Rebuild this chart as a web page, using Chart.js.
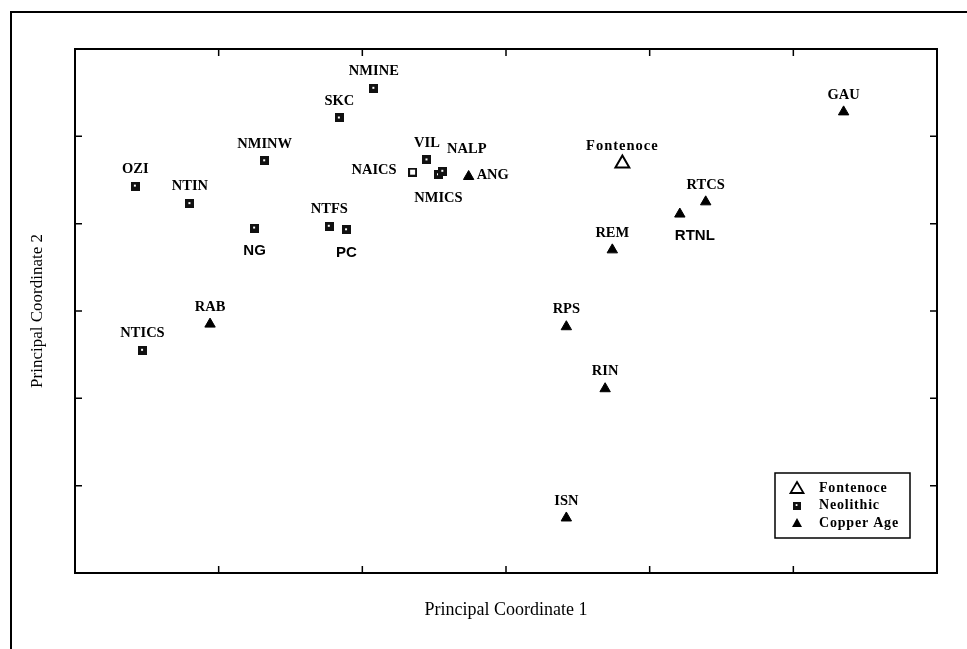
<!DOCTYPE html>
<html lang="en">
<head>
<meta charset="UTF-8">
<title>Principal coordinates</title>
<script src="https://cdn.jsdelivr.net/npm/chart.js"></script>
<style>
  body { margin: 0; background: #fff; }
  .wrap { position: relative; width: 967px; height: 649px; }
</style>
</head>
<body>
<div class="wrap"><canvas id="pco" width="967" height="649"></canvas></div>
<script>
// Neolithic sites
const neoNames = ['OZI', 'NTIN', 'NMINW', 'NG', 'NTFS', 'PC', 'SKC', 'NMINE', 'NAICS', 'VIL', 'NMICS', 'NALP', 'NTICS'];
const neoX = [0.42, 0.80, 1.32, 1.25, 1.77, 1.89, 1.84, 2.08, 2.35, 2.45, 2.53, 2.56, 0.47];
const neoY = [4.43, 4.23, 4.72, 3.95, 3.97, 3.93, 5.21, 5.55, 4.59, 4.73, 4.56, 4.60, 2.55];
const neoSide = ['above', 'above', 'above', 'below', 'above', 'below', 'above', 'above', 'left', 'above', 'below', 'aboveRight', 'above'];

// Copper Age sites
const cuNames = ['ANG', 'RAB', 'RPS', 'RIN', 'ISN', 'REM', 'RTNL', 'RTCS', 'GAU'];
const cuX = [2.74, 0.94, 3.42, 3.69, 3.42, 3.74, 4.21, 4.39, 5.35];
const cuY = [4.54, 2.85, 2.82, 2.11, 0.63, 3.70, 4.11, 4.25, 5.28];
const cuSide = ['right', 'above', 'above', 'above', 'above', 'above', 'belowRight', 'above', 'above'];

// Fontenoce
const fonNames = ['Fontenoce'];
const fonX = [3.81];
const fonY = [4.69];
const fonSide = ['above'];

const tickValues = [1, 2, 3, 4, 5];
const legendLabels = ['Fontenoce', 'Neolithic', 'Copper Age'];

// labels printed in a plain sans face in the original
const sansLabels = ['NG', 'PC', 'RTNL'];
// the one Neolithic marker printed as an open square
const hollowSites = ['NAICS'];

function toPoints(xs, ys) {
    return xs.map((x, i) => ({ x: x, y: ys[i] }));
}

// small black square with a light speck, as in the scan
function neoMarker(size, hollow) {
    const c = document.createElement('canvas');
    c.width = size; c.height = size;
    const g = c.getContext('2d');
    g.fillStyle = '#111';
    g.fillRect(0, 0, size, size);
    g.fillStyle = '#fff';
    if (hollow) g.fillRect(2, 2, size - 4, size - 4);
    else g.fillRect(Math.floor(size / 2) - 1, Math.floor(size / 2) - 1, 2, 2);
    return c;
}
const neoIcon = neoMarker(9, false);
const neoOpenIcon = neoMarker(9, true);

const serif = '"Liberation Serif", "DejaVu Serif", serif';
const sans = '"Liberation Sans", Arial, sans-serif';

const outerFrame = {
    id: 'outerFrame',
    beforeDraw(chart) {
        const ctx = chart.ctx;
        ctx.save();
        ctx.fillStyle = '#fff';
        ctx.fillRect(0, 0, chart.width, chart.height);
        ctx.strokeStyle = '#000';
        ctx.lineWidth = 2;
        ctx.beginPath();
        ctx.moveTo(11, chart.height + 5);
        ctx.lineTo(11, 12);
        ctx.lineTo(chart.width + 5, 12);
        ctx.stroke();
        ctx.restore();
    }
};

const boxAndTicks = {
    id: 'boxAndTicks',
    afterDraw(chart) {
        const { ctx, chartArea: a, scales } = chart;
        ctx.save();
        ctx.strokeStyle = '#000';
        ctx.lineWidth = 2;
        ctx.strokeRect(a.left, a.top, a.right - a.left, a.bottom - a.top);
        ctx.lineWidth = 1.5;
        ctx.beginPath();
        tickValues.forEach(v => {
            const px = scales.x.getPixelForValue(v);
            ctx.moveTo(px, a.bottom); ctx.lineTo(px, a.bottom - 7);
            ctx.moveTo(px, a.top); ctx.lineTo(px, a.top + 7);
            const py = scales.y.getPixelForValue(v);
            ctx.moveTo(a.left, py); ctx.lineTo(a.left + 7, py);
            ctx.moveTo(a.right, py); ctx.lineTo(a.right - 7, py);
        });
        ctx.stroke();
        ctx.restore();
    }
};

const siteLabels = {
    id: 'siteLabels',
    afterDatasetsDraw(chart) {
        const ctx = chart.ctx;
        ctx.save();
        ctx.fillStyle = '#000';
        ctx.textBaseline = 'middle';
        chart.data.datasets.forEach((ds, di) => {
            const meta = chart.getDatasetMeta(di);
            meta.data.forEach((pt, i) => {
                const name = ds.names[i];
                const side = ds.sides[i];
                const isSans = sansLabels.includes(name);
                ctx.font = isSans ? 'bold 15px ' + sans : 'bold 14.5px ' + serif;
                ctx.letterSpacing = name === 'Fontenoce' ? '1px' : '0px';
                let x = pt.x, y = pt.y;
                ctx.textAlign = 'center';
                if (side === 'above') { y -= 17; }
                else if (side === 'below') { y += 23; }
                else if (side === 'belowRight') { x += 15; y += 22; }
                else if (side === 'left') { ctx.textAlign = 'right'; x -= 16; y -= 2; }
                else if (side === 'right') { ctx.textAlign = 'left'; x += 8; y -= 1; }
                else if (side === 'aboveRight') { x += 24; y -= 22; }
                ctx.fillText(name, x, y);
            });
        });
        ctx.restore();
    }
};

const legendBox = {
    id: 'legendBox',
    afterDraw(chart) {
        const ctx = chart.ctx;
        const bx = 775, by = 473, bw = 135, bh = 65;
        ctx.save();
        ctx.fillStyle = '#fff';
        ctx.fillRect(bx, by, bw, bh);
        ctx.strokeStyle = '#000';
        ctx.lineWidth = 1.5;
        ctx.strokeRect(bx, by, bw, bh);
        const mx = bx + 22;
        legendLabels.forEach((lab, i) => {
            const cy = by + 15 + i * 17.5;
            ctx.fillStyle = '#000';
            if (i === 0) {
                ctx.lineWidth = 1.8;
                ctx.beginPath();
                ctx.moveTo(mx, cy - 6); ctx.lineTo(mx + 6.5, cy + 5); ctx.lineTo(mx - 6.5, cy + 5);
                ctx.closePath();
                ctx.stroke();
            } else if (i === 1) {
                ctx.drawImage(neoIcon, mx - 4, cy - 4, 8, 8);
            } else {
                ctx.beginPath();
                ctx.moveTo(mx, cy - 5); ctx.lineTo(mx + 5, cy + 4); ctx.lineTo(mx - 5, cy + 4);
                ctx.closePath();
                ctx.fill();
            }
            ctx.font = 'bold 14px ' + serif;
            ctx.letterSpacing = '0.8px';
            ctx.textAlign = 'left';
            ctx.textBaseline = 'middle';
            ctx.fillText(lab, bx + 44, cy);
        });
        ctx.restore();
    }
};

new Chart(document.getElementById('pco'), {
    type: 'scatter',
    data: {
        datasets: [
            {
                label: 'Neolithic',
                names: neoNames, sides: neoSide,
                data: toPoints(neoX, neoY),
                pointStyle: c => hollowSites.includes(neoNames[c.dataIndex]) ? neoOpenIcon : neoIcon,
                pointRadius: 5
            },
            {
                label: 'Copper Age',
                names: cuNames, sides: cuSide,
                data: toPoints(cuX, cuY),
                pointStyle: 'triangle',
                pointRadius: 6,
                backgroundColor: '#000',
                borderColor: '#000',
                borderWidth: 1
            },
            {
                label: 'Fontenoce',
                names: fonNames, sides: fonSide,
                data: toPoints(fonX, fonY),
                pointStyle: 'triangle',
                pointRadius: 8,
                backgroundColor: '#fff',
                borderColor: '#000',
                borderWidth: 2
            }
        ]
    },
    options: {
        responsive: false,
        animation: false,
        layout: { padding: { top: 49, right: 30, left: 0, bottom: 0 } },
        plugins: {
            legend: { display: false },
            tooltip: { enabled: false }
        },
        scales: {
            x: {
                type: 'linear', min: 0, max: 6,
                ticks: { display: false },
                grid: { display: false },
                border: { display: false },
                title: {
                    display: true, text: 'Principal Coordinate 1', color: '#000',
                    font: { family: serif, size: 18 },
                    padding: { top: 0, bottom: 28 }
                },
                afterFit: s => { s.height = 76; }
            },
            y: {
                type: 'linear', min: 0, max: 6,
                ticks: { display: false },
                grid: { display: false },
                border: { display: false },
                title: {
                    display: true, text: 'Principal Coordinate 2', color: '#000',
                    font: { family: serif, size: 17 },
                    padding: { top: 27, bottom: 0 }
                },
                afterFit: s => { s.width = 75; }
            }
        }
    },
    plugins: [outerFrame, boxAndTicks, siteLabels, legendBox]
});
</script>
</body>
</html>
